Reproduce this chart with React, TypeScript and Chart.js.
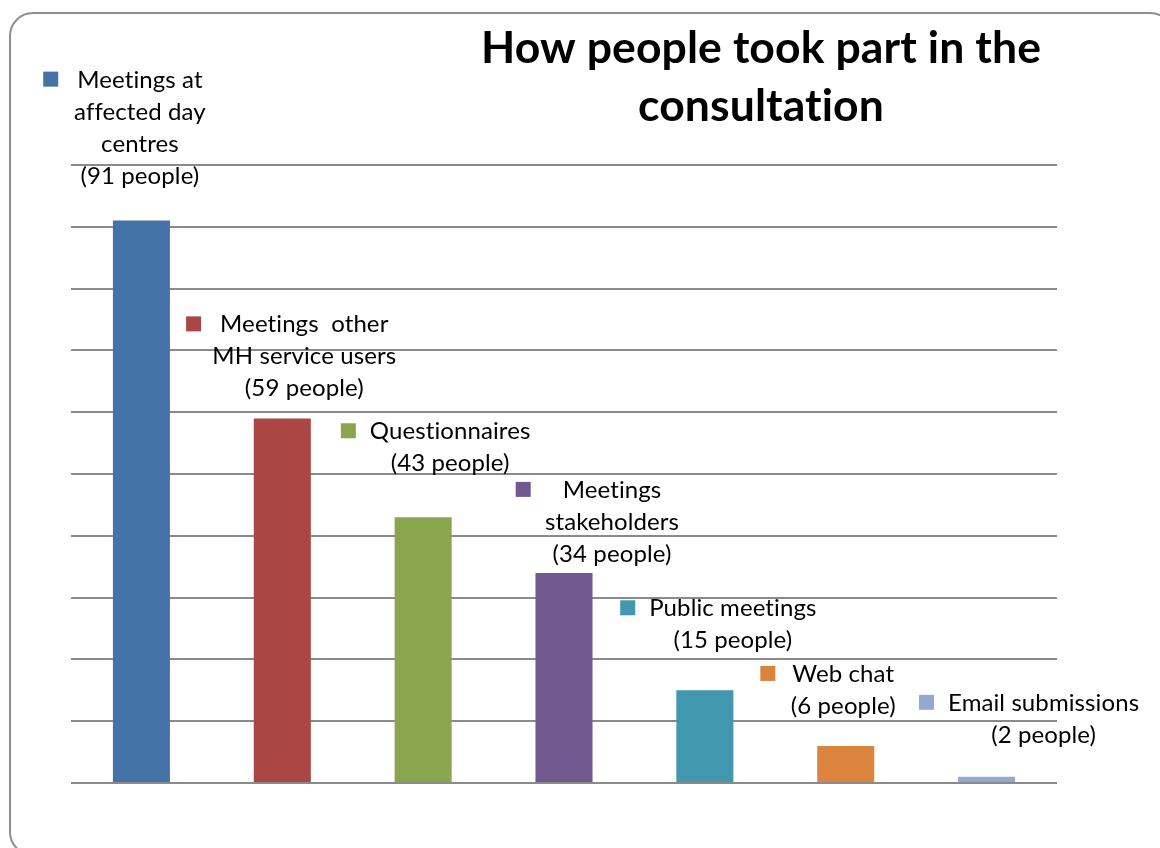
import React, { useEffect, useRef } from "react";
import { Chart, registerables } from "chart.js";

Chart.register(...registerables);

const categories = [
  "Meetings at affected day centres",
  "Meetings other MH service users",
  "Questionnaires",
  "Meetings stakeholders",
  "Public meetings",
  "Web chat",
  "Email submissions",
];
const values = [91, 59, 43, 34, 15, 6, 1];
const barColors = ["#4572A7", "#AA4643", "#89A54E", "#71588F", "#4198AF", "#DB843D", "#93A9CF"];
const labelLines = [
  ["Meetings at", "affected day", "centres", "(91 people)"],
  ["Meetings  other", "MH service users", "(59 people)"],
  ["Questionnaires", "(43 people)"],
  ["Meetings", "stakeholders", "(34 people)"],
  ["Public meetings", "(15 people)"],
  ["Web chat", "(6 people)"],
  ["Email submissions", "(2 people)"],
];
const titleLines = ["How people took part in the", "consultation"];
const yMin = 0;
const yMax = 100;
const yStep = 10;

// label placement (pixel offsets from bar top centre), key gaps
const labelDx = [-1.5, 22, 27, 48, 28, -2.5, 57];
const labelDy = [-133, -86, -78, -75, -74, -64, -66];
const keyGap = [19, 19, 14, 32, 14, 17, 14];

const FONT = "Lato, 'Open Sans', sans-serif";

const labelPlugin = {
  id: "labelPlugin",
  afterDraw(chart: any) {
    const ctx = chart.ctx;
    const meta = chart.getDatasetMeta(0);
    ctx.save();
    try {
      (ctx as any).letterSpacing = "0.1px";
    } catch (e) {}
    // title
    ctx.fillStyle = "#000";
    ctx.font = `bold 44.5px ${FONT}`;
    ctx.textAlign = "center";
    ctx.textBaseline = "alphabetic";
    ctx.fillText(titleLines[0], 761, 63);
    ctx.fillText(titleLines[1], 761, 121);
    // labels
    ctx.font = `24px ${FONT}`;
    meta.data.forEach((bar: any, i: number) => {
      const cx = bar.x + labelDx[i];
      const by = bar.y + labelDy[i];
      const lines = labelLines[i];
      ctx.fillStyle = "#000";
      ctx.textAlign = "center";
      lines.forEach((ln, j) => {
        ctx.fillText(ln, cx, by + j * 32);
      });
      const w0 = ctx.measureText(lines[0]).width;
      const kx = cx - w0 / 2 - keyGap[i] - 15;
      ctx.fillStyle = barColors[i];
      ctx.fillRect(kx, by - 16, 15, 15);
    });
    ctx.restore();
  },
};

export default function App() {
  const ref = useRef<HTMLCanvasElement | null>(null);
  useEffect(() => {
    if (!ref.current) return;
    const chart = new Chart(ref.current, {
      type: "bar",
      data: {
        labels: categories,
        datasets: [
          {
            data: values,
            backgroundColor: barColors,
            borderWidth: 0,
            categoryPercentage: 1,
            barPercentage: 0.405,
          },
        ],
      },
      options: {
        responsive: false,
        maintainAspectRatio: false,
        animation: false,
        layout: { padding: { left: 71, right: 103, top: 165, bottom: 65 } },
        plugins: { legend: { display: false }, tooltip: { enabled: false }, title: { display: false } },
        scales: {
          x: {
            grid: { display: false, drawTicks: false },
            ticks: { display: false },
            border: { display: false },
          },
          y: {
            min: yMin,
            max: yMax,
            ticks: { display: false, stepSize: yStep },
            grid: { color: "#8a8a8a", lineWidth: 2, drawTicks: false },
            border: { display: false },
          },
        },
      },
      plugins: [labelPlugin],
    });
    return () => chart.destroy();
  }, []);
  return (
    <div style={{ position: "fixed", left: 0, top: 0, width: 1160, height: 848, overflow: "hidden", background: "#fff" }}>
      <div
        style={{
          position: "absolute",
          left: 9,
          top: 12,
          width: 1165,
          height: 844,
          boxSizing: "border-box",
          border: "2px solid #8e8e8e",
          borderRadius: 24,
        }}
      />
      <canvas ref={ref} width={1160} height={848} style={{ position: "absolute", left: 0, top: 0 }} />
    </div>
  );
}
